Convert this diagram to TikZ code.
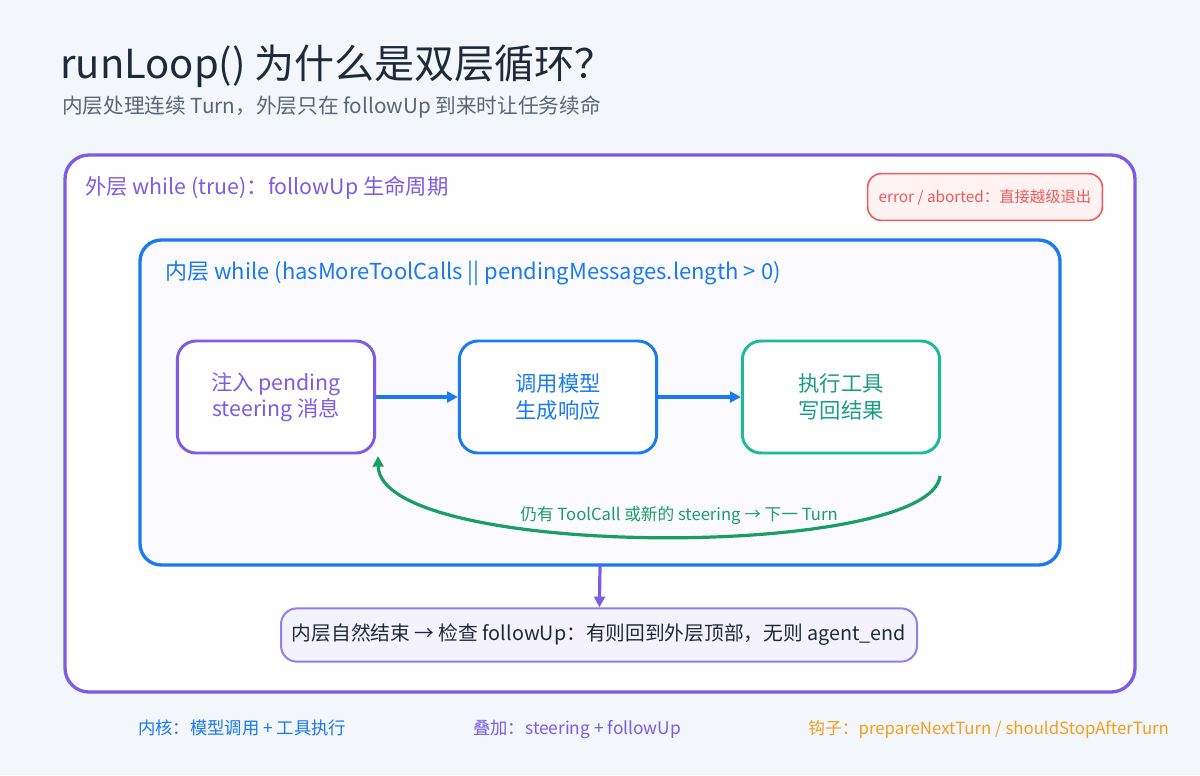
\documentclass[tikz,border=0pt]{standalone}
\usepackage{fontspec}
\setmainfont{Noto Sans CJK SC}
\usetikzlibrary{arrows.meta}
\definecolor{bgc}{HTML}{F3F6FA}
\definecolor{ink}{HTML}{1E2A3A}
\definecolor{grayt}{HTML}{5A6575}
\definecolor{outerc}{HTML}{7B5CE6}
\definecolor{innerc}{HTML}{1A7AF0}
\definecolor{tealc}{HTML}{1DB99A}
\definecolor{greenc}{HTML}{1A9E64}
\definecolor{redc}{HTML}{EE5A5A}
\definecolor{orangec}{HTML}{F0A020}
\tikzset{
  stage/.style={draw, line width=2.2pt, rounded corners=14, align=center, font=\fontsize{16}{20}\selectfont},
  flow/.style={-{Triangle[length=8pt,width=8pt]}, line width=2.4pt}
}
\begin{document}
\begin{tikzpicture}[x=0.75pt,y=-0.75pt]

    % fond
    \fill[bgc] (0,0) rectangle (1200,775);

    % titre
    \node[anchor=base west, text=ink, font=\fontsize{30}{34}\selectfont, inner sep=0] (title) at (60,78) {runLoop() 为什么是双层循环？};
    \node[anchor=base west, text=grayt, font=\fontsize{15.5}{19}\selectfont, inner sep=0] (subtitle) at (62,113) {内层处理连续 Turn，外层只在 followUp 到来时让任务续命};

    % boucle externe
    \draw[outerc, fill=white, line width=2.5pt, rounded corners=18] (65,155) rectangle (1135,692);
    \node[anchor=base west, text=outerc, font=\fontsize{16}{20}\selectfont, inner sep=0] (outerlbl) at (85,194) {外层 while (true)：followUp 生命周期};
    \node[draw=redc, fill=red!5, line width=1.2pt, rounded corners=10, text=redc, font=\fontsize{11.5}{14}\selectfont, minimum width=176pt, minimum height=35pt] (abort) at (985,197) {error / aborted：直接越级退出};

    % boucle interne
    \draw[innerc, fill=blue!2, line width=2.5pt, rounded corners=16] (140,240) rectangle (1060,565);
    \node[anchor=base west, text=innerc, font=\fontsize{16.5}{20}\selectfont, inner sep=0] (innerlbl) at (165,279) {内层 while (hasMoreToolCalls || pendingMessages.length > 0)};

    % etapes
    \node[stage, draw=outerc, fill=white, text=outerc, minimum width=148pt, minimum height=84pt] (inject) at (276,397) {注入 pending\\steering 消息};
    \node[stage, draw=innerc, fill=white, text=innerc, minimum width=148pt, minimum height=84pt] (model) at (558,397) {调用模型\\生成响应};
    \node[stage, draw=tealc, fill=white, text=tealc!85!black, minimum width=148pt, minimum height=84pt] (tools) at (841,397) {执行工具\\写回结果};

    \draw[flow, innerc] (inject) -- (model);
    \draw[flow, innerc] (model) -- (tools);

    % retour
    \coordinate (loopstart) at (940,476);
    \coordinate (loopend) at (378,456);
    \draw[flow, greenc] (loopstart) .. controls (930,560) and (380,560) .. (loopend);
    \node[text=greenc, font=\fontsize{12.5}{15}\selectfont] (looplbl) at (679,516) {仍有 ToolCall 或新的 steering → 下一 Turn};

    % fin
    \coordinate (innerbottom) at (600,566);
    \node[draw=outerc!80, fill=outerc!8, line width=1.5pt, rounded corners=12, text=ink, font=\fontsize{14.8}{18}\selectfont, minimum width=477pt, minimum height=40pt] (finish) at (599,635) {内层自然结束 → 检查 followUp：有则回到外层顶部，无则 agent\_end};
    \draw[flow, outerc] (innerbottom) -- (finish);

    % legende
    \node[anchor=base west, text=innerc, font=\fontsize{13}{16}\selectfont, inner sep=0] (leg1) at (138,734) {内核：模型调用 + 工具执行};
    \node[anchor=base west, text=outerc, font=\fontsize{13}{16}\selectfont, inner sep=0] (leg2) at (473,734) {叠加：steering + followUp};
    \node[anchor=base west, text=orangec, font=\fontsize{12.6}{16}\selectfont, inner sep=0] (leg3) at (808,734) {钩子：prepareNextTurn / shouldStopAfterTurn};

\end{tikzpicture}
\end{document}
